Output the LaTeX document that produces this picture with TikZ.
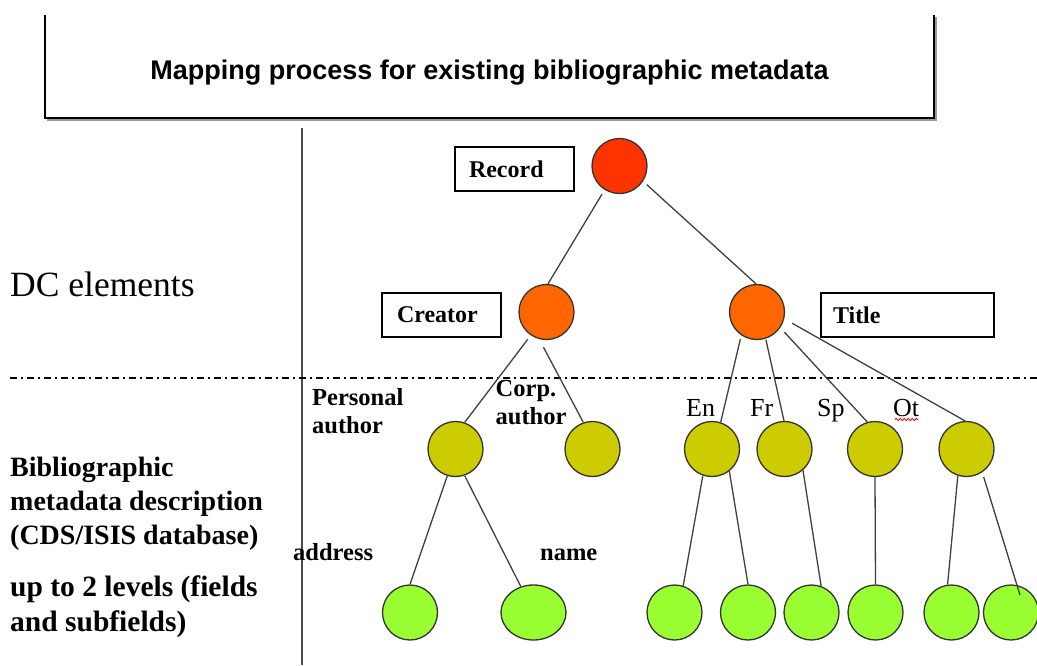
\documentclass[tikz,border=0pt]{standalone}
\usepackage{fontspec}
\setmainfont{Liberation Serif}
\setsansfont{Liberation Sans}
\usetikzlibrary{shapes.geometric,calc,decorations.pathmorphing}
\definecolor{recred}{HTML}{FF3300}
\definecolor{dcorange}{HTML}{FF6600}
\definecolor{biyellow}{HTML}{CCCC00}
\definecolor{lgreen}{HTML}{99FF33}
\begin{document}
\begin{tikzpicture}[x=1pt,y=-1pt,
  circ/.style={circle,draw=black!80,line width=1.3pt,minimum size=55pt,inner sep=0pt},
  rednode/.style={circ,fill=recred},
  orangenode/.style={circ,fill=dcorange},
  yellownode/.style={circ,fill=biyellow},
  greennode/.style={circ,fill=lgreen},
  lbox/.style={draw=black,line width=1.4pt,minimum height=44pt,inner ysep=0pt,align=left,font=\fontsize{24}{28}\selectfont\bfseries},
  conn/.style={draw=black!75,line width=1.3pt},
  lab/.style={anchor=base west,inner sep=0pt,font=\fontsize{24.5}{28}\selectfont\bfseries},
  lang/.style={anchor=base west,inner sep=0pt,font=\fontsize{26}{30}\selectfont}
]
\useasboundingbox (0,0) rectangle (1037,665);
\fill[white] (0,0) rectangle (1037,665);

% header box
\draw[black!40,line width=1.2pt] (936,17) -- (936,120) -- (47,120);
\draw[line width=1.3pt] (45,15) -- (45,118) -- (934,118) -- (934,15);
\node[font=\sffamily\bfseries\fontsize{27}{32}\selectfont,inner sep=0pt] (head) at (489.5,73) {Mapping process for existing bibliographic metadata};

% dividers
\draw[line width=1.5pt,black!70] (302,128) -- (302,665);
\draw[line width=1.2pt,dash pattern=on 7pt off 4pt on 2pt off 4pt] (10,378) -- (1037,378);

% side texts
\node[font=\fontsize{35.5}{40}\selectfont,anchor=base west,inner sep=0pt] (dc) at (10,296) {DC elements};
\node[font=\bfseries\fontsize{28}{34}\selectfont,anchor=north west,inner sep=0pt,align=left] (bib) at (10,456.5) {Bibliographic\\metadata description\\(CDS/ISIS database)};
\node[font=\bfseries\fontsize{29.5}{35}\selectfont,anchor=north west,inner sep=0pt,align=left] (lev) at (10,576) {up to 2 levels (fields\\and subfields)};

% tree nodes
\node[rednode] (rec) at (619.5,166) {};
\node[orangenode] (cre) at (546.5,312) {};
\node[orangenode] (tit) at (757,312) {};
\node[yellownode] (pers) at (455.5,449) {};
\node[yellownode] (corp) at (592.5,449) {};
\node[yellownode] (en) at (712,449) {};
\node[yellownode] (fr) at (784.5,449) {};
\node[yellownode] (sp) at (875,449) {};
\node[yellownode] (ot) at (966.5,449) {};
\node[greennode] (g1) at (410,612.5) {};
\node[greennode,ellipse,minimum width=65pt,minimum height=55pt] (g2) at (533.5,612.5) {};
\node[greennode] (g3) at (674.5,612.5) {};
\node[greennode] (g4) at (748,612.5) {};
\node[greennode] (g5) at (811.5,612.5) {};
\node[greennode] (g6) at (875.5,612.5) {};
\node[greennode] (g7) at (951.5,612.5) {};
\node[greennode] (g8) at (1011,612.5) {};

% label boxes
\node[lbox,text width=91pt,inner xsep=14pt] (recbox) at (514.5,169) {Record};
\node[lbox,text width=89pt,inner xsep=15pt] (crebox) at (441.5,315) {Creator};
\node[lbox,text width=149pt,inner xsep=12pt] (titbox) at (907.5,315) {Title};

% labels
\node[lab,anchor=north west,align=left] (perslab) at (312,388) {Personal\\author};
\node[lab,anchor=north west,align=left] (corplab) at (495.5,380) {Corp.\\author};
\node[lab] (addrlab) at (293,560) {address};
\node[lab] (namelab) at (540,560) {name};
\node[lang] (enlab) at (686,416) {En};
\node[lang] (frlab) at (750,416) {Fr};
\node[lang] (splab) at (817,416) {Sp};
\node[lang] (otlab) at (893,416) {Ot};
\draw[red,line width=0.8pt,decorate,decoration={snake,amplitude=1.2pt,segment length=4pt}]
  ($(otlab.base west)+(2,3.5)$) -- ($(otlab.base east)+(-1,3.5)$);

% connectors
\draw[conn,shorten <=5pt] (rec.238) -- (cre.87);
\draw[conn,shorten <=5pt] (rec.327) -- (tit.92);
\draw[conn,shorten <=5pt] (cre.236) -- (pers.71);
\draw[conn,shorten <=9pt] (cre.255) -- (corp.109);
\draw[conn,shorten <=4pt] (tit.236) -- (en.72);
\draw[conn,shorten <=1pt] (tit.288) -- (fr.91);
\draw[conn,shorten <=6pt] (tit.326) -- (sp.106);
\draw[conn,shorten <=9pt] (tit.346) -- (ot.93);
\draw[conn] (pers.253) -- (g1.90);
\draw[conn] (pers.289) -- (g2.116);
\draw[conn] (en.251) -- (g3.72);
\draw[conn] (en.308) -- (g4.90);
\draw[conn] (fr.311) -- (g5.70);
\draw[conn] (sp.270) -- (g6.90);
\draw[conn] (ot.252) -- (g7.98);
\coordinate (g8in) at ($(g8)+(9,-17.5)$);
\draw[conn,shorten <=5pt] (ot.304) -- (g8in);
\end{tikzpicture}
\end{document}
